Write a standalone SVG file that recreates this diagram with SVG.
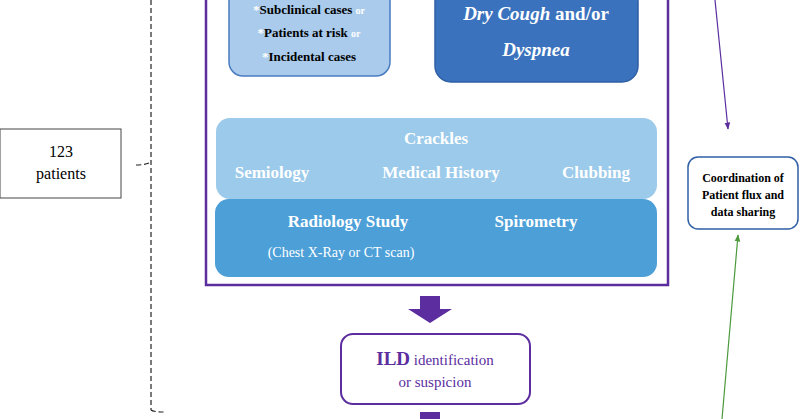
<svg xmlns="http://www.w3.org/2000/svg" width="800" height="419" viewBox="0 0 800 419">
<style>
.b{font-family:"Liberation Serif",serif;font-weight:bold}
.w{fill:#fff}
.r{font-family:"Liberation Serif",serif}
</style>
<defs>
<marker id="mp" viewBox="0 0 10 10" refX="9" refY="5" markerWidth="6" markerHeight="6" orient="auto"><path d="M0,1 L10,5 L0,9z" fill="#5B2D9E"/></marker>
<marker id="mg" viewBox="0 0 10 10" refX="9" refY="5" markerWidth="6" markerHeight="6" orient="auto"><path d="M0,1 L10,5 L0,9z" fill="#4C9A3C"/></marker>
</defs>
<rect width="800" height="419" fill="#fff"/>
<g id="connectors">
<path d="M151,0 V410 M136,165 Q146,165 151,162 M151,410 Q153,412 166,412" fill="none" stroke="#222" stroke-width="1.2" stroke-dasharray="5,3"/>
<line x1="715" y1="0" x2="728" y2="129" stroke="#5B2D9E" stroke-width="1.2" marker-end="url(#mp)"/>
<line x1="722" y1="419" x2="738" y2="235" stroke="#4C9A3C" stroke-width="1.2" marker-end="url(#mg)"/>
<path d="M420,296 H440 V309 H452 L430,323 L408,309 H420 Z" fill="#5B2D9E"/>
<rect x="420" y="412" width="20" height="10" fill="#5B2D9E"/>
</g>
<g id="outer"><rect x="206" y="-10" width="462" height="295" fill="#fff" stroke="#5B2D9E" stroke-width="2.5"/></g>
<g id="cases">
<rect x="229" y="-14" width="161" height="90" rx="14" fill="#AACBEB" stroke="#4A7CC0" stroke-width="1.5"/>
<text x="309" y="14" text-anchor="middle" class="b" font-size="13"><tspan class="w">*</tspan>Subclinical cases <tspan class="w" font-size="10">or</tspan></text>
<text x="309" y="37" text-anchor="middle" class="b" font-size="13"><tspan class="w">*</tspan>Patients at risk <tspan class="w" font-size="10">or</tspan></text>
<text x="309" y="61" text-anchor="middle" class="b" font-size="13"><tspan class="w">*</tspan>Incidental cases</text>
</g>
<g id="cough">
<rect x="435" y="-14" width="203" height="96" rx="16" fill="#3A72BE" stroke="#2F5FA5" stroke-width="1.5"/>
<text x="536" y="20" text-anchor="middle" class="b w" font-size="19"><tspan font-style="italic">Dry Cough</tspan> and/or</text>
<text x="536" y="56" text-anchor="middle" class="b w" font-size="19" font-style="italic">Dyspnea</text>
</g>
<g id="semiology">
<rect x="216" y="118" width="441" height="81" rx="14" fill="#9BCAEA"/>
<text x="436" y="144" text-anchor="middle" class="b w" font-size="17">Crackles</text>
<text x="272" y="178" text-anchor="middle" class="b w" font-size="17">Semiology</text>
<text x="441" y="178" text-anchor="middle" class="b w" font-size="17">Medical History</text>
<text x="596" y="178" text-anchor="middle" class="b w" font-size="17">Clubbing</text>
</g>
<g id="study">
<rect x="215" y="199" width="442" height="78" rx="14" fill="#4D9FD8"/>
<text x="348" y="227" text-anchor="middle" class="b w" font-size="17">Radiology Study</text>
<text x="536" y="227" text-anchor="middle" class="b w" font-size="17">Spirometry</text>
<text x="341" y="257" text-anchor="middle" class="r w" font-size="14">(Chest X-Ray or CT scan)</text>
</g>
<g id="ild">
<rect x="341" y="334" width="189" height="70" rx="12" fill="#fff" stroke="#5B2D9E" stroke-width="2"/>
<text x="435" y="365" text-anchor="middle" class="r" font-size="15" fill="#5B2D9E"><tspan class="b" font-size="19">ILD</tspan> identification</text>
<text x="435" y="387" text-anchor="middle" class="r" font-size="15" fill="#5B2D9E">or suspicion</text>
</g>
<g id="patients">
<rect x="0" y="129" width="121" height="69" fill="#fff" stroke="#444" stroke-width="1"/>
<text x="61" y="157" text-anchor="middle" class="r" font-size="16">123</text>
<text x="61" y="179" text-anchor="middle" class="r" font-size="16">patients</text>
</g>
<g id="coordination">
<rect x="688" y="157" width="110" height="72" rx="10" fill="#fff" stroke="#2F5FA5" stroke-width="1.5"/>
<text x="743" y="182" text-anchor="middle" class="b" font-size="12">Coordination of</text>
<text x="743" y="199" text-anchor="middle" class="b" font-size="12">Patient flux and</text>
<text x="743" y="216" text-anchor="middle" class="b" font-size="12">data sharing</text>
</g>
</svg>
